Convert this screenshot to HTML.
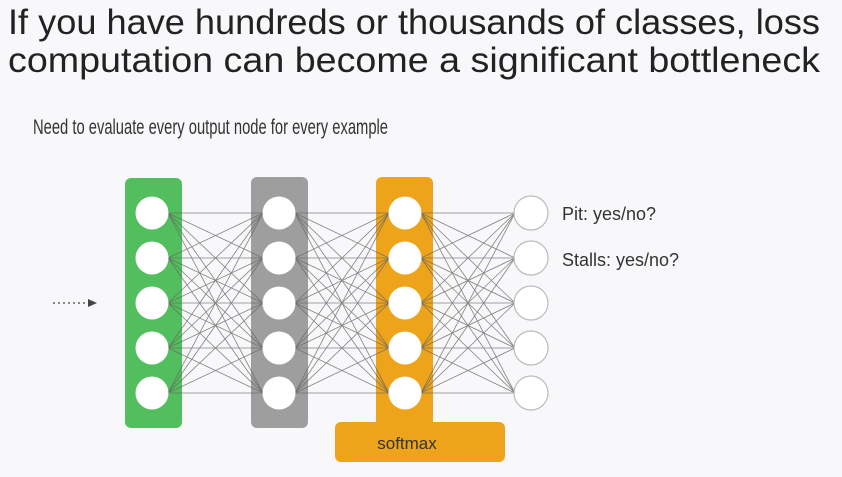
<!DOCTYPE html>
<html><head><meta charset="utf-8"><style>
html,body{margin:0;padding:0;background:#f8f8fa;}
svg{display:block;}
</style></head><body>
<svg id="s" width="842" height="477" xmlns="http://www.w3.org/2000/svg" font-family="Liberation Sans, sans-serif">
<rect width="842" height="477" fill="#f8f8fa"/>
<text x="8" y="34" font-size="35" fill="#222" textLength="812" lengthAdjust="spacingAndGlyphs">If you have hundreds or thousands of classes, loss</text>
<text x="8" y="72" font-size="35" fill="#222" textLength="812" lengthAdjust="spacingAndGlyphs">computation can become a significant bottleneck</text>
<text x="33" y="134" font-size="21" fill="#333" textLength="355" lengthAdjust="spacingAndGlyphs">Need to evaluate every output node for every example</text>
<rect x="125" y="178" width="57" height="250" rx="6" fill="#52be5d"/>
<rect x="251" y="177" width="57" height="251" rx="6" fill="#9e9e9e"/>
<rect x="376" y="177" width="57" height="260" rx="6" fill="#eda31a"/>
<rect x="335" y="422" width="170" height="40" rx="6" fill="#eda31a"/>
<text x="407" y="449" font-size="17" fill="#333" text-anchor="middle">softmax</text>
<line x1="53" y1="303" x2="88" y2="303" stroke="#444" stroke-width="1.3" stroke-dasharray="2,3"/>
<polygon points="88,299 97,303 88,307" fill="#444"/>
<g id="lines" stroke="#666" stroke-width="0.8" opacity="0.8"></g>
<g id="nodes"></g>
<text x="562" y="220" font-size="18" fill="#333">Pit: yes/no?</text>
<text x="562" y="266" font-size="18" fill="#333">Stalls: yes/no?</text>
</svg>
<script>
var xs=[152,279,405,531],ys=[213,258,303,348,393],r=16;
var L=document.getElementById('lines'),N=document.getElementById('nodes'),ns='http://www.w3.org/2000/svg';
for(var k=0;k<3;k++)for(var i=0;i<5;i++)for(var j=0;j<5;j++){var l=document.createElementNS(ns,'line');l.setAttribute('x1',xs[k]+r);l.setAttribute('y1',ys[i]);l.setAttribute('x2',xs[k+1]-r);l.setAttribute('y2',ys[j]);L.appendChild(l);}
for(var k=0;k<4;k++)for(var i=0;i<5;i++){var c=document.createElementNS(ns,'circle');c.setAttribute('cx',xs[k]);c.setAttribute('cy',ys[i]);c.setAttribute('r',k==3?17:16.5);c.setAttribute('fill','#fff');if(k==3){c.setAttribute('stroke','#bbb');c.setAttribute('stroke-width','1.2');}N.appendChild(c);}
</script>
</body></html>
